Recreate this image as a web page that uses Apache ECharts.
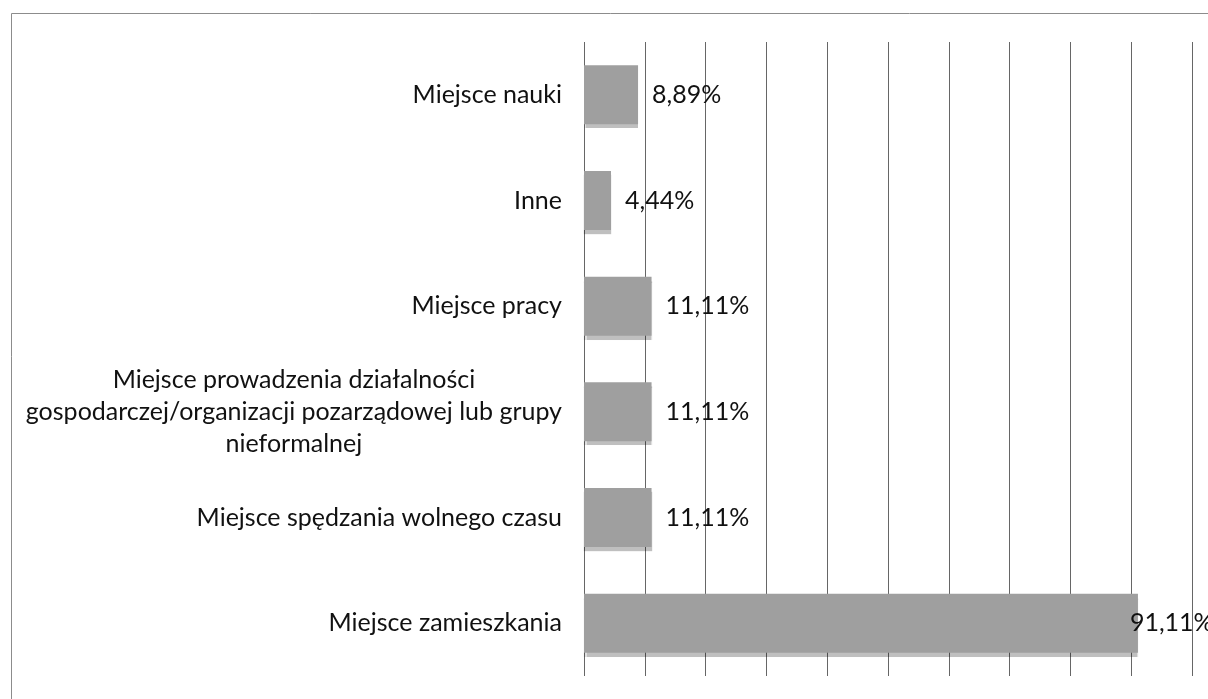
<!DOCTYPE html>
<html>
<head>
<meta charset="utf-8">
<script src="https://cdn.jsdelivr.net/npm/echarts@6/dist/echarts.min.js"></script>
<style>
  html, body { margin: 0; padding: 0; background: #ffffff; }
  #chart { width: 1208px; height: 699px; }
</style>
</head>
<body>
<div id="chart"></div>
<script>
// Categories listed top to bottom
const categories = [
  'Miejsce nauki',
  'Inne',
  'Miejsce pracy',
  'Miejsce prowadzenia działalności\ngospodarczej/organizacji pozarządowej lub grupy\nnieformalnej',
  'Miejsce spędzania wolnego czasu',
  'Miejsce zamieszkania'
];
// Share of answers, in percent
const shares = [8.89, 4.44, 11.11, 11.11, 11.11, 91.11];
// Value axis range and gridline step (percent)
const axisMin = 0;
const axisMax = 100;
const axisStep = 10;

const FONT = 'Lato, "Open Sans", sans-serif';
const TEXT_COLOR = '#111111';

function pct(v) {
  return v.toFixed(2).replace('.', ',') + '%';
}

// the longest bar reaches the plot edge, so its label sits over the bar end
const barData = shares.map(function (v) {
  return v > 90 ? { value: v, label: { distance: -8 } } : v;
});

const chart = echarts.init(document.getElementById('chart'), null, { renderer: 'canvas' });

chart.setOption({
  backgroundColor: '#ffffff',
  animation: false,
  graphic: [{
    type: 'rect',
    silent: true,
    z: -10,
    shape: { x: 11.5, y: 13.5, width: 1400, height: 900 },
    style: { fill: 'none', stroke: '#8c8c8c', lineWidth: 1 }
  }],
  grid: { left: 584, right: 16, top: 42, bottom: 23 },
  xAxis: {
    type: 'value',
    min: axisMin,
    max: axisMax,
    interval: axisStep,
    axisLine: { show: false },
    axisTick: { show: false },
    axisLabel: { show: false },
    splitLine: { show: true, showMinLine: true, showMaxLine: true, lineStyle: { color: '#666666', width: 1 } }
  },
  yAxis: {
    type: 'category',
    inverse: true,
    data: categories,
    axisLine: { show: false },
    axisTick: { show: false },
    splitLine: { show: false },
    axisLabel: {
      margin: 22,
      formatter: function (name) {
        return name.split('\n').map(function (line) { return '{c|' + line + '}'; }).join('\n');
      },
      rich: {
        c: {
          align: 'center',
          fontFamily: FONT,
          fontSize: 25,
          lineHeight: 32,
          color: TEXT_COLOR
        }
      }
    }
  },
  series: [{
    type: 'bar',
    data: barData,
    barWidth: 59,
    itemStyle: {
      color: '#9f9f9f',
      shadowColor: 'rgba(0,0,0,0.25)',
      shadowBlur: 1,
      shadowOffsetX: 0,
      shadowOffsetY: 4
    },
    label: {
      show: true,
      position: 'right',
      distance: 14,
      fontFamily: FONT,
      fontSize: 25,
      color: TEXT_COLOR,
      formatter: function (p) { return pct(p.value); }
    }
  }]
});
</script>
</body>
</html>
